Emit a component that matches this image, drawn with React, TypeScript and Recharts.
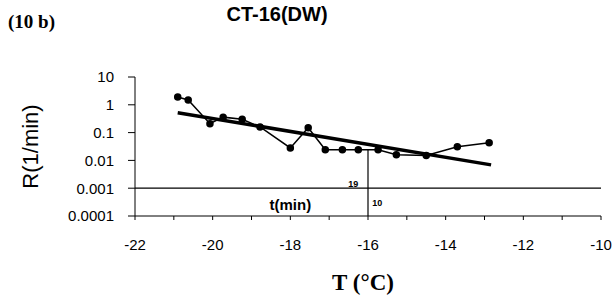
import {
  LineChart,
  Line,
  XAxis,
  YAxis,
  ReferenceLine,
  ReferenceDot,
} from "recharts";

const temps = [
  -20.9, -20.63, -20.07, -19.73, -19.24, -18.78, -18.0, -17.54, -17.1, -16.66,
  -16.25, -15.74, -15.27, -14.5, -13.7, -12.88,
];
const rates = [
  1.9, 1.5, 0.21, 0.36, 0.3, 0.16, 0.028, 0.15, 0.024, 0.024, 0.024, 0.024,
  0.016, 0.015, 0.031, 0.043,
];
const trendTemps = [-20.9, -12.83];
const trendRates = [0.52, 0.0069];
const xTicks = [-22, -21, -20, -19, -18, -17, -16, -15, -14, -13, -12, -11, -10];
const yTicks = [0.0001, 0.001, 0.01, 0.1, 1, 10];

const series = temps.map((t, i) => ({ t, r: rates[i] }));
const trend = trendTemps.map((t, i) => ({ t, r: trendRates[i] }));

const sans = "'Liberation Sans', Arial, sans-serif";
const serif = "'Liberation Serif', 'Times New Roman', serif";

export default function App() {
  return (
    <div style={{ position: "absolute", left: 0, top: 0, width: 615, height: 304 }}>
      <div
        style={{
          position: "absolute",
          left: 8,
          top: 11,
          fontFamily: serif,
          fontWeight: "bold",
          fontSize: 19,
        }}
      >
        (10 b)
      </div>
      <div
        style={{
          position: "absolute",
          left: 177,
          width: 200,
          top: 3,
          textAlign: "center",
          fontFamily: sans,
          fontWeight: "bold",
          fontSize: 20,
        }}
      >
        CT-16(DW)
      </div>
      <div
        style={{
          position: "absolute",
          left: 263,
          width: 200,
          top: 270,
          textAlign: "center",
          fontFamily: serif,
          fontWeight: "bold",
          fontSize: 23,
        }}
      >
        T (°C)
      </div>
      <LineChart
        width={615}
        height={304}
        margin={{ top: 77, right: 14, bottom: 58, left: 0 }}
        style={{ fontFamily: sans }}
      >
        <XAxis
          dataKey="t"
          type="number"
          domain={[-22, -10]}
          ticks={xTicks}
          tickFormatter={(v: number) => (v % 2 === 0 ? String(v) : "")}
          stroke="#000"
          tickSize={4}
          tickMargin={19}
          tick={{ fill: "#000", fontSize: 15 }}
          allowDataOverflow
        />
        <YAxis
          dataKey="r"
          type="number"
          scale="log"
          domain={[0.0001, 10]}
          ticks={yTicks}
          tickFormatter={(v: number) => String(v)}
          stroke="#000"
          width={135}
          tickSize={7}
          tickMargin={14}
          tick={{ fill: "#000", fontSize: 15 }}
          allowDataOverflow
          label={{
            value: "R(1/min)",
            angle: -90,
            position: "insideLeft",
            offset: 30,
            style: { fontSize: 22, fill: "#000", textAnchor: "middle" },
          }}
        />
        <ReferenceLine y={0.001} stroke="#000" strokeWidth={1.2} />
        <ReferenceLine
          segment={[
            { x: -16, y: 0.0001 },
            { x: -16, y: 0.024 },
          ]}
          stroke="#000"
          strokeWidth={1.2}
        />
        <ReferenceDot
          x={-18}
          y={0.00026}
          r={0}
          label={{ value: "t(min)", position: "center", fill: "#000", fontSize: 15, fontWeight: "bold" }}
        />
        <ReferenceDot
          x={-16.38}
          y={0.0014}
          r={0}
          label={{ value: "19", position: "center", fill: "#000", fontSize: 9, fontWeight: "bold" }}
        />
        <ReferenceDot
          x={-15.76}
          y={0.0003}
          r={0}
          label={{ value: "10", position: "center", fill: "#000", fontSize: 9, fontWeight: "bold" }}
        />
        <Line
          data={series}
          dataKey="r"
          stroke="#000"
          strokeWidth={1.5}
          dot={{ r: 3, fill: "#000", stroke: "#000" }}
          isAnimationActive={false}
        />
        <Line
          data={trend}
          dataKey="r"
          stroke="#000"
          strokeWidth={3.5}
          dot={false}
          isAnimationActive={false}
        />
      </LineChart>
    </div>
  );
}
